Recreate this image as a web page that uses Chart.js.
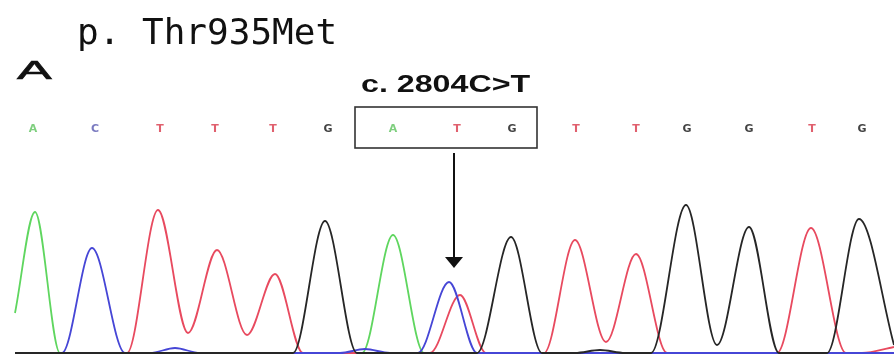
<!DOCTYPE html>
<html>
<head>
<meta charset="utf-8">
<script src="https://cdn.jsdelivr.net/npm/chart.js@4/dist/chart.umd.min.js"></script>
<style>
    html, body { margin: 0; padding: 0; background: #fff; }
    #wrap { position: relative; width: 894px; height: 358px; overflow: hidden; }
    #wrap canvas { position: absolute; left: 0; top: 0; }
    .lbl { position: absolute; white-space: nowrap; transform-origin: 0 0; color: #111; }
    #protein { left: 77px; top: 11px; font: 36px "DejaVu Sans Mono", monospace; }
    #panel { left: 17px; top: 55px; font: 26px "Liberation Sans", Arial, sans-serif; transform: scaleX(2.0); -webkit-text-stroke: 0.6px #111; }
    #cdna { left: 361px; top: 71px; font: bold 23px "Liberation Sans", Arial, sans-serif; transform: scaleX(1.4); }
</style>
</head>
<body>
<div id="wrap">
    <canvas id="traceChart" width="894" height="358"></canvas>
    <div class="lbl" id="protein">p. Thr935Met</div>
    <div class="lbl" id="panel">A</div>
    <div class="lbl" id="cdna">c. 2804C&gt;T</div>
</div>
<script>
// base calls and their positions along the trace
const baseCalls = ['A', 'C', 'T', 'T', 'T', 'G', 'A', 'T', 'G', 'T', 'T', 'G', 'G', 'T', 'G'];
const basePos = [33, 95, 160, 215, 273, 328, 393, 457, 512, 576, 636, 687, 749, 812, 862];

// trace samples per channel (position, signal height)
const traceA_x = [15, 35, 60, 362, 393, 424, 894];
const traceA_y = [40, 141, 0, 0, 118, 0, 0];

const traceC_x = [15, 62, 92, 125, 150, 175, 200, 340, 365, 390, 418, 449, 477, 894];
const traceC_y = [0, 0, 105, 0, 0, 5, 0, 0, 4, 0, 0, 71, 0, 0];

const traceT_x = [15, 127, 158, 188, 217, 247, 275, 303, 430, 460, 486, 544, 575, 606, 636, 667, 777, 811, 846, 862, 894];
const traceT_y = [0, 0, 143, 20, 103, 18, 79, 0, 0, 58, 0, 0, 113, 11, 99, 0, 0, 125, 0, 0, 6];

const traceG_x = [15, 293, 325, 357, 477, 511, 542, 575, 600, 625, 651, 686, 717, 749, 779, 827, 859, 894];
const traceG_y = [0, 0, 132, 0, 0, 116, 0, 0, 3, 0, 0, 148, 8, 126, 0, 0, 134, 8];

const mutantFirst = 6;
const mutantLast = 8;
const mutantIndex = 7;

const baseColors = { A: '#7fcf7f', C: '#7a7ac0', T: '#e0606e', G: '#444444' };
const traceColors = { A: '#5fd65f', C: '#4646d6', T: '#e84a5f', G: '#262626' };

function toPoints(xs, ys) {
    return xs.map((x, i) => ({ x: x, y: ys[i] }));
}

function traceSet(label, xs, ys) {
    return {
        label: label,
        data: toPoints(xs, ys),
        borderColor: traceColors[label],
        borderWidth: 1.8,
        pointRadius: 0,
        fill: false,
        cubicInterpolationMode: 'monotone'
    };
}

// box round the mutated codon plus the arrow to the mixed peak
const codonMarker = {
    id: 'codonMarker',
    afterDraw(chart) {
        const ctx = chart.ctx;
        const xs = chart.scales.x;
        const left = xs.getPixelForValue(basePos[mutantFirst]) - 38;
        const right = xs.getPixelForValue(basePos[mutantLast]) + 25;
        const ax = xs.getPixelForValue(basePos[mutantIndex]) - 3;

        ctx.save();
        ctx.strokeStyle = '#333';
        ctx.lineWidth = 1.6;
        ctx.strokeRect(left, 107, right - left, 41);

        ctx.strokeStyle = '#111';
        ctx.lineWidth = 2;
        ctx.beginPath();
        ctx.moveTo(ax, 153);
        ctx.lineTo(ax, 260);
        ctx.stroke();

        ctx.fillStyle = '#111';
        ctx.beginPath();
        ctx.moveTo(ax - 9, 257);
        ctx.lineTo(ax + 9, 257);
        ctx.lineTo(ax, 268);
        ctx.closePath();
        ctx.fill();
        ctx.restore();
    }
};

new Chart(document.getElementById('traceChart'), {
    type: 'line',
    data: {
        // first dataset is drawn on top, so the dark trace owns the baseline
        datasets: [
            traceSet('G', traceG_x, traceG_y),
            traceSet('C', traceC_x, traceC_y),
            traceSet('T', traceT_x, traceT_y),
            traceSet('A', traceA_x, traceA_y)
        ]
    },
    options: {
        responsive: false,
        animation: false,
        layout: { padding: { top: 110, left: 0, right: 0, bottom: 0 } },
        plugins: {
            legend: { display: false },
            tooltip: { enabled: false }
        },
        scales: {
            x: {
                type: 'linear',
                position: 'top',
                min: 0,
                max: 894,
                grid: { display: false, drawTicks: false },
                border: { display: false },
                afterBuildTicks: (scale) => {
                    scale.ticks = basePos.map(v => ({ value: v }));
                },
                afterFit: (scale) => {
                    scale.height = 24;
                },
                ticks: {
                    autoSkip: false,
                    maxRotation: 0,
                    padding: -2,
                    font: { family: 'DejaVu Sans', size: 11, weight: 'bold' },
                    color: (c) => baseColors[baseCalls[c.index]],
                    callback: (value, index) => baseCalls[index]
                }
            },
            y: {
                display: false,
                min: -5,
                max: 219
            }
        }
    },
    plugins: [codonMarker]
});
</script>
</body>
</html>
